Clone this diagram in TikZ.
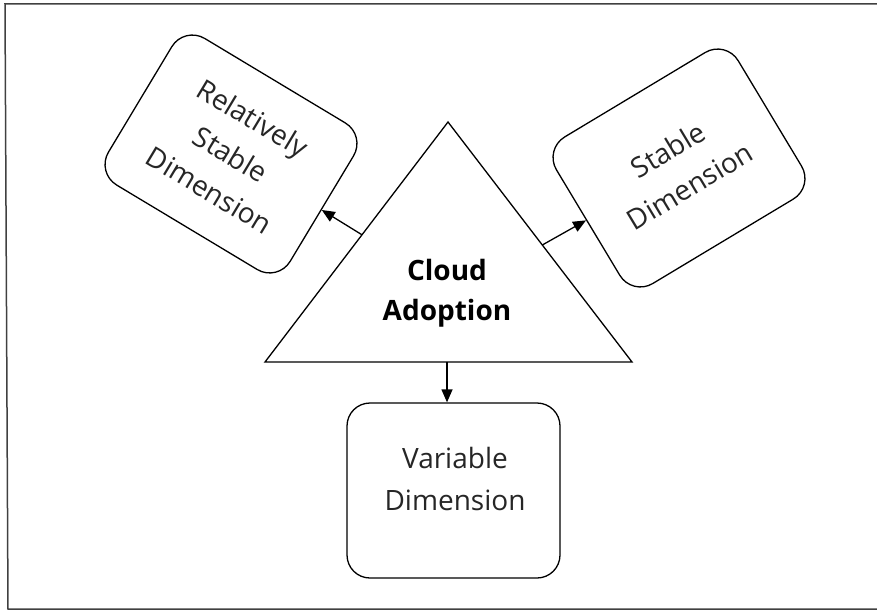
\documentclass[tikz,border=0pt]{standalone}
\usepackage{fontspec}
\setmainfont{Open Sans}
\usetikzlibrary{arrows.meta,calc}
\begin{document}
\begin{tikzpicture}[x=1pt,y=-1pt,
  frame/.style={draw=black!75, line width=1.5pt},
  txt/.style={align=center, font=\fontsize{28}{42}\selectfont, text=black!85},
  dimbox/.style={draw, line width=1.3pt, rounded corners=24pt, minimum width=212pt, minimum height=171pt, inner sep=0pt, txt},
  conn/.style={line width=1.3pt, -{Triangle[length=13pt,width=11pt]}},
  ]
\useasboundingbox (0,0) rectangle (877,615);
\draw[frame] (877,4) -- (5,4) -- (8,609) -- (877,609);
\coordinate (apex) at (448,122);
\coordinate (bl) at (265,362);
\coordinate (br) at (632,362);
\draw[line width=1.3pt, line join=miter] (apex) -- (bl) -- (br) -- cycle;
\node[align=center, font=\bfseries\fontsize{28}{40}\selectfont] (cloud) at (447,293) {Cloud\\Adoption};
\node[dimbox, rotate=-31] (rel) at (231,154) {Relatively\\Stable\\Dimension};
\node[dimbox, rotate=31] (stab) at (679,168) {Stable\\Dimension};
\node[dimbox, minimum width=213pt, minimum height=175pt, rounded corners=23pt] (var) at (453.5,490.5) {};
\node[txt] (vartext) at (455,479) {Variable\\Dimension};
\coordinate (tl) at ($(apex)!0.47!(bl)$);
\coordinate (tr) at ($(apex)!0.5125!(br)$);
\coordinate (tb) at (447,362);
\draw[conn] (tl) -- (rel);
\draw[conn] (tr) -- (stab);
\draw[conn] (tb) -- (tb |- var.north);
\end{tikzpicture}
\end{document}
